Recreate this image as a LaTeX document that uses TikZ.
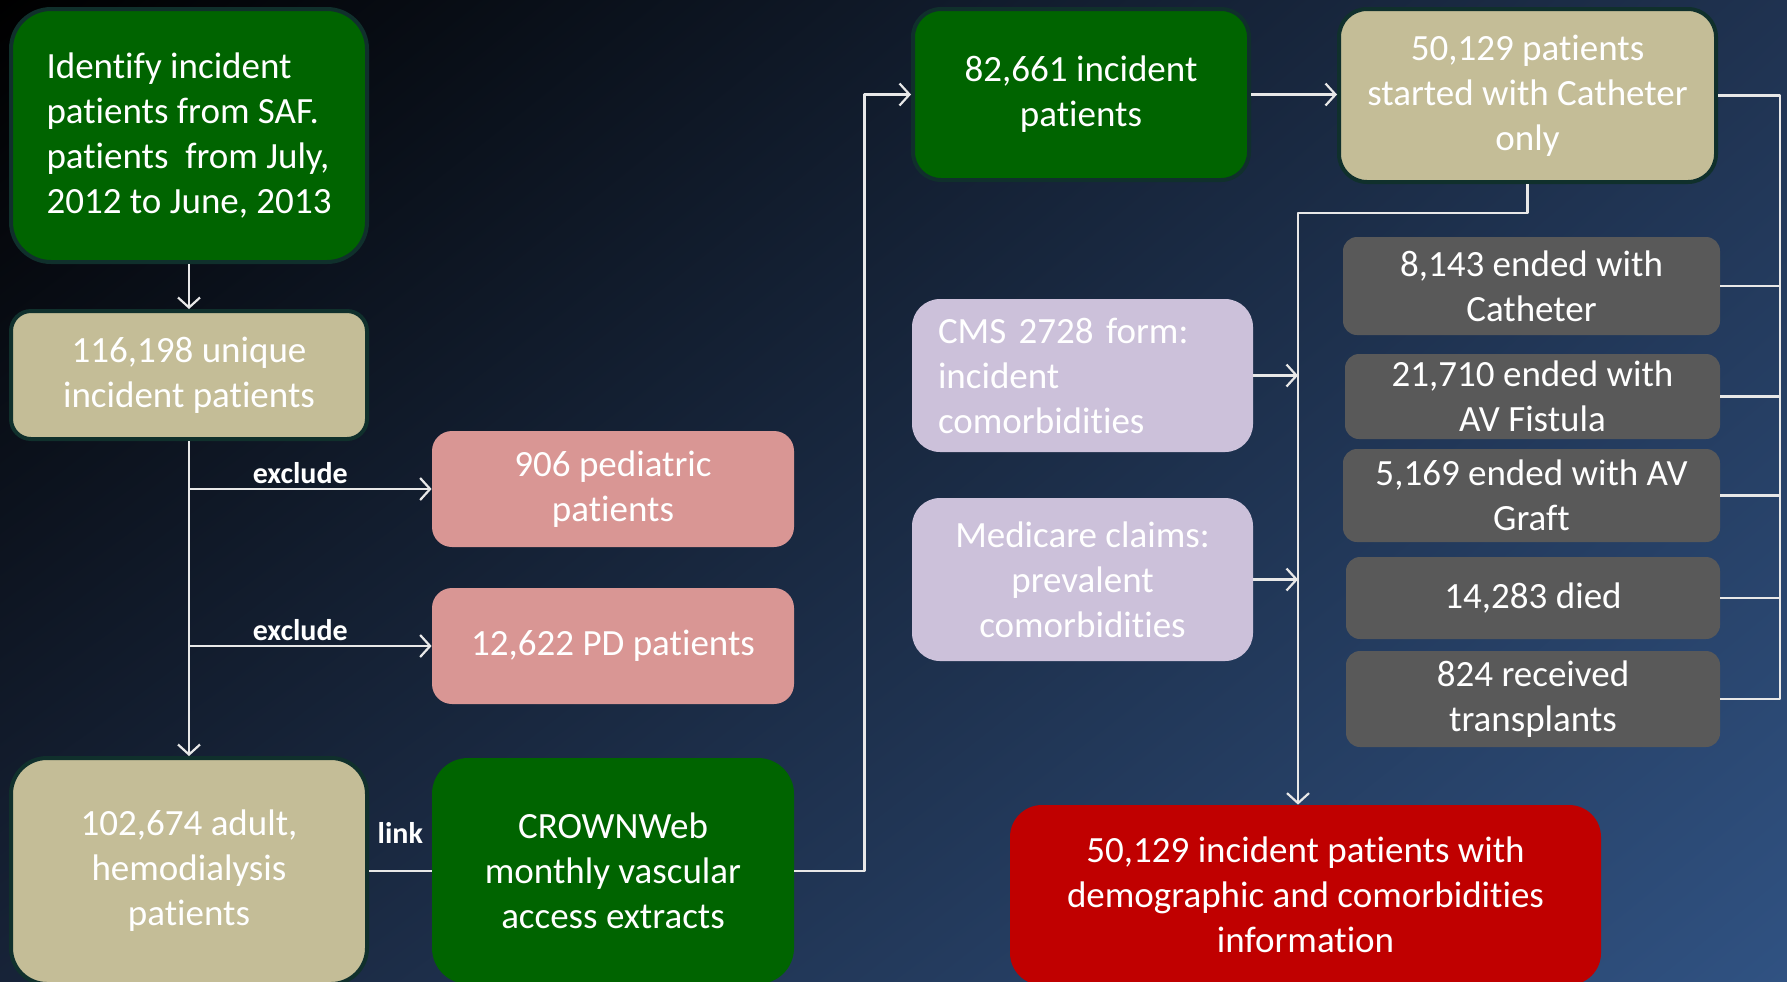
\documentclass[tikz,border=0pt]{standalone}
\usepackage{fontspec}
\setmainfont{Carlito}[Ligatures=NoCommon]
\usetikzlibrary{arrows.meta,shadings}
\definecolor{boxgreen}{HTML}{006400}
\definecolor{boxtan}{HTML}{C4BD97}
\definecolor{boxpink}{HTML}{D99694}
\definecolor{boxlav}{HTML}{CCC1DA}
\definecolor{boxgrey}{HTML}{595959}
\definecolor{boxred}{HTML}{C00000}
\definecolor{rimcol}{HTML}{10302C}
\definecolor{linecol}{HTML}{E8E8E8}
\definecolor{bgtr}{HTML}{1F3250}
\definecolor{bgbl}{HTML}{172338}
\definecolor{bgbr}{HTML}{305282}
\begin{document}
\begin{tikzpicture}[x=0.5pt,y=-0.5pt,>={Straight Barb[length=5pt,width=11pt]},line join=round,
	every node/.style={text=white},
	box/.style={rounded corners=#1,align=center,inner sep=0pt,font=\fontsize{18.5}{22.5}\selectfont},
	box/.default=10pt,
	rim/.style={draw=rimcol,line width=2pt},
	conn/.style={draw=linecol,line width=1.1pt},
	lbl/.style={font=\fontsize{15}{18}\selectfont\bfseries,inner sep=2pt}]
	\useasboundingbox (0,0) rectangle (1787,981);
	\clip (0,0) rectangle (1787,981);
	\shade[upper left=black,upper right=bgtr,lower left=bgbl,lower right=bgbr] (0,0) rectangle (1787,981);
	% left column
	\node[box=20pt,rim,fill=boxgreen,align=left,minimum width=178pt,minimum height=126.5pt] (ident) at (189,135.5) {Identify incident\\ patients from SAF.\\ patients\ \ from July,\\ 2012 to June,\ 2013};
	\node[box,rim,fill=boxtan,minimum width=178pt,minimum height=64pt] (uniq) at (189,375) {116,198 unique\\ incident patients};
	\node[box,fill=boxpink,minimum width=181pt,minimum height=58pt] (ped) at (613,489) {906 pediatric\\ patients};
	\node[box,fill=boxpink,minimum width=181pt,minimum height=58pt] (pd) at (613,646) {12,622 PD patients};
	\node[box=18pt,rim,fill=boxtan,minimum width=178pt,minimum height=113pt] (adult) at (189,871) {102,674 adult,\\ hemodialysis\\ patients};
	\node[box=18pt,fill=boxgreen,minimum width=181pt,minimum height=113pt] (crown) at (613,871) {CROWNWeb\\ monthly vascular\\ access\ extracts};
	% right part
	\node[box=14pt,rim,fill=boxgreen,minimum width=168pt,minimum height=85.5pt] (inc) at (1081,94.5) {82,661 incident\\ patients};
	\node[box=14pt,rim,fill=boxtan,minimum width=188.5pt,minimum height=86.5pt] (cath) at (1527.5,95.5) {50,129 patients\\ started with Catheter\\ only};
	\node[box=14pt,fill=boxlav,align=left,text width=144.5pt,inner xsep=13pt,minimum height=76.5pt] (cms) at (1082.5,375.5) {CMS 2728 form:\\ incident\\ comorbidities};
	\node[box=14pt,fill=boxlav,minimum width=170.5pt,minimum height=81.5pt] (medi) at (1082.5,579.5) {Medicare claims:\\ prevalent\\ comorbidities};
	\node[box=7pt,fill=boxgrey,minimum width=188.5pt,minimum height=49pt] (end1) at (1531.5,286) {8,143 ended\ with\\ Catheter};
	\node[box=7pt,fill=boxgrey,minimum width=187.5pt,minimum height=42.5pt] (end2) at (1532.5,396.5) {21,710 ended\ with\\ AV Fistula};
	\node[box=7pt,fill=boxgrey,minimum width=188.5pt,minimum height=46.5pt] (end3) at (1531.5,495.5) {5,169 ended\ with AV\\ Graft};
	\node[box=7pt,fill=boxgrey,minimum width=187pt,minimum height=41pt] (end4) at (1533,598) {14,283 died};
	\node[box=7pt,fill=boxgrey,minimum width=187pt,minimum height=48pt] (end5) at (1533,699) {824 received\\ transplants};
	\node[box=16pt,fill=boxred,minimum width=295.5pt,minimum height=90pt] (final) at (1305.5,895) {50,129 incident patients with\\ demographic and comorbidities\\ information};
	% connectors
	\draw[conn,->] (ident) -- (uniq);
	\draw[conn,->] (uniq) -- (adult);
	\draw[conn,->] (uniq.south |- ped.west) -- (ped.west) node[lbl,midway,above,xshift=-5pt]{exclude};
	\draw[conn,->] (uniq.south |- pd.west) -- (pd.west) node[lbl,midway,above,xshift=-5pt]{exclude};
	\draw[conn] (adult) -- (crown) node[lbl,midway,above=11pt]{link};
	\draw[conn,->] (crown.east) -- ++(70,0) |- (inc.west);
	\draw[conn,->] (inc.east) -- (inc.east -| cath.west);
	\coordinate (trunk) at (1298,213);
	\draw[conn,->] (cath.south) |- (trunk) -- (trunk |- final.north);
	\draw[conn,->] (cms.east) -- (cms.east -| trunk);
	\draw[conn,->] (medi.east) -- (medi.east -| trunk);
	\coordinate (brk) at (1780,0);
	\draw[conn] (cath.east) -| (brk |- end5.east) -- (end5.east);
	\foreach \i in {1,...,4}
	\draw[conn] (end\i.east) -- (end\i.east -| brk);
\end{tikzpicture}
\end{document}
